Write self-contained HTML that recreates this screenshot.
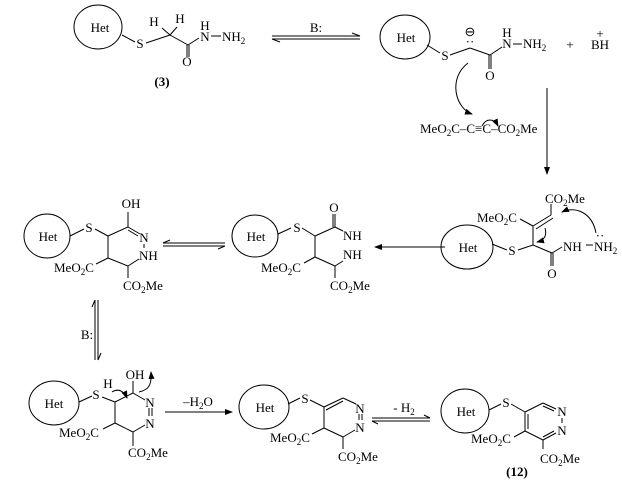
<!DOCTYPE html>
<html><head><meta charset="utf-8"><style>
html,body{margin:0;padding:0;background:#fff;}
svg{display:block;}
text{font-family:"Liberation Serif",serif;font-size:13px;fill:#000;}
.sub{font-size:9px;}
</style></head><body>
<svg width="622" height="482" viewBox="0 0 622 482" xmlns="http://www.w3.org/2000/svg">
<defs>
<marker id="ah" markerWidth="8" markerHeight="6" refX="7" refY="3" orient="auto" markerUnits="userSpaceOnUse"><path d="M0,0 L8,3 L0,6 z" fill="#000"/></marker>
</defs>
<g stroke="#000" stroke-width="1" fill="none">
<!-- Structure 3 -->
<ellipse cx="98" cy="27" rx="24" ry="22"/>
<line x1="122" y1="35" x2="135" y2="42"/>
<line x1="146" y1="43" x2="170" y2="35"/>
<line x1="170" y1="35" x2="162" y2="28"/>
<line x1="170" y1="35" x2="177" y2="27"/>
<line x1="170" y1="35" x2="188" y2="45"/>
<line x1="187" y1="45" x2="187" y2="57"/><line x1="189" y1="45" x2="189" y2="57"/>
<line x1="188" y1="45" x2="199" y2="38"/>
<line x1="211" y1="36" x2="221" y2="36"/>
<!-- eq arrow 1 -->
<line x1="272" y1="36" x2="360" y2="36"/><line x1="272" y1="39" x2="360" y2="39"/>
<line x1="272" y1="39" x2="280" y2="42"/><line x1="360" y1="36" x2="352" y2="33"/>
<!-- Structure 2 -->
<ellipse cx="405" cy="37" rx="25" ry="22"/>
<line x1="427" y1="45" x2="440" y2="53"/>
<line x1="450" y1="55" x2="470" y2="48"/>
<line x1="470" y1="48" x2="490" y2="55"/>
<line x1="489" y1="55" x2="489" y2="69"/><line x1="491" y1="55" x2="491" y2="69"/>
<line x1="490" y1="55" x2="502" y2="47"/>
<line x1="513" y1="44" x2="522" y2="44"/>
<path d="M468,63 C448,78 455,108 472,114" marker-end="url(#ah)"/>
<path d="M482,126 C486,118 494,118 498,126" marker-end="url(#ah)"/>
<line x1="547" y1="88" x2="547" y2="174" marker-end="url(#ah)"/>
<!-- Structure right-mid -->
<ellipse cx="467" cy="247" rx="26" ry="22"/>
<line x1="492" y1="244" x2="507" y2="250"/>
<line x1="518" y1="250" x2="533" y2="245"/>
<line x1="533" y1="245" x2="533" y2="226"/>
<line x1="533" y1="226" x2="520" y2="219"/>
<line x1="533" y1="226" x2="551" y2="215"/><line x1="536" y1="229" x2="553" y2="218"/>
<line x1="551" y1="215" x2="551" y2="204"/>
<line x1="533" y1="245" x2="552" y2="253"/>
<line x1="551" y1="253" x2="551" y2="266"/><line x1="553" y1="253" x2="553" y2="266"/>
<line x1="552" y1="253" x2="562" y2="247"/>
<line x1="586" y1="245" x2="593" y2="245"/>
<path d="M596,233 C592,212 575,206 562,212" marker-end="url(#ah)"/>
<path d="M545,228 C547,235 545,240 537,242" marker-end="url(#ah)"/>
<line x1="445" y1="247" x2="375" y2="247" marker-end="url(#ah)"/>
<!-- Structure mid -->
<ellipse cx="255" cy="236" rx="23" ry="21"/>
<line x1="278" y1="234" x2="291" y2="228"/>
<line x1="302" y1="228" x2="315" y2="236"/>
<line x1="315" y1="236" x2="335" y2="227"/>
<line x1="335" y1="227" x2="335" y2="214"/><line x1="333" y1="227" x2="333" y2="214"/>
<line x1="335" y1="227" x2="343" y2="231"/>
<line x1="315" y1="236" x2="315" y2="257"/>
<line x1="315" y1="257" x2="335" y2="266"/>
<line x1="315" y1="257" x2="304" y2="263"/>
<line x1="335" y1="266" x2="343" y2="261"/>
<line x1="335" y1="266" x2="335" y2="278"/>
<!-- eq arrow mid -->
<line x1="163" y1="243" x2="225" y2="243"/><line x1="163" y1="246" x2="225" y2="246"/>
<line x1="163" y1="243" x2="170" y2="240"/><line x1="225" y1="246" x2="218" y2="249"/>
<!-- Structure left mid -->
<ellipse cx="47" cy="236" rx="23" ry="22"/>
<line x1="70" y1="236" x2="84" y2="229"/>
<line x1="95" y1="229" x2="108" y2="236"/>
<line x1="108" y1="236" x2="128" y2="227"/>
<line x1="128" y1="227" x2="128" y2="212"/>
<line x1="128" y1="227" x2="140" y2="234"/><line x1="128" y1="230" x2="138" y2="236"/>
<line x1="108" y1="236" x2="108" y2="258"/>
<line x1="108" y1="258" x2="128" y2="266"/>
<line x1="108" y1="258" x2="96" y2="264"/>
<line x1="128" y1="266" x2="139" y2="259"/>
<line x1="128" y1="266" x2="128" y2="278"/>
<line x1="144" y1="244" x2="144" y2="248"/>
<!-- B: vertical eq -->
<line x1="95" y1="300" x2="95" y2="360"/><line x1="98" y1="300" x2="98" y2="360"/>
<line x1="95" y1="300" x2="92" y2="307"/><line x1="98" y1="360" x2="101" y2="353"/>
<!-- Structure bottom-left -->
<ellipse cx="54" cy="403" rx="25" ry="22"/>
<line x1="79" y1="402" x2="92" y2="396"/>
<line x1="102" y1="397" x2="115" y2="402"/>
<line x1="115" y1="402" x2="133" y2="393"/>
<line x1="133" y1="393" x2="133" y2="381"/>
<line x1="133" y1="393" x2="145" y2="400"/>
<line x1="115" y1="402" x2="115" y2="423"/>
<line x1="115" y1="423" x2="133" y2="432"/>
<line x1="115" y1="423" x2="103" y2="429"/>
<line x1="133" y1="432" x2="145" y2="425"/>
<line x1="133" y1="432" x2="133" y2="446"/>
<line x1="149" y1="408" x2="149" y2="416"/><line x1="152" y1="408" x2="152" y2="416"/>
<path d="M112,392 C118,388 124,391 127,398" marker-end="url(#ah)"/>
<path d="M139,392 C148,390 152,386 151,372" marker-end="url(#ah)"/>
<line x1="165" y1="412" x2="232" y2="412" marker-end="url(#ah)"/>
<!-- Structure bottom-mid -->
<ellipse cx="264" cy="407" rx="25" ry="22"/>
<line x1="288" y1="404" x2="300" y2="398"/>
<line x1="310" y1="400" x2="324" y2="407"/>
<line x1="324" y1="407" x2="343" y2="398"/><line x1="326" y1="410" x2="343" y2="401"/>
<line x1="343" y1="398" x2="356" y2="404"/>
<line x1="324" y1="407" x2="324" y2="428"/>
<line x1="324" y1="428" x2="343" y2="437"/>
<line x1="324" y1="428" x2="312" y2="434"/>
<line x1="343" y1="437" x2="355" y2="430"/>
<line x1="343" y1="437" x2="343" y2="449"/>
<line x1="359" y1="414" x2="359" y2="420"/><line x1="362" y1="414" x2="362" y2="420"/>
<!-- eq arrow bottom -->
<line x1="372" y1="418" x2="430" y2="418"/><line x1="372" y1="421" x2="430" y2="421"/>
<line x1="372" y1="421" x2="378" y2="424"/><line x1="430" y1="418" x2="424" y2="415"/>
<!-- Structure 12 -->
<ellipse cx="465" cy="411" rx="24" ry="22"/>
<line x1="489" y1="410" x2="501" y2="404"/>
<line x1="511" y1="404" x2="525" y2="412"/>
<line x1="525" y1="412" x2="543" y2="403"/>
<line x1="543" y1="403" x2="556" y2="409"/><line x1="543" y1="406" x2="554" y2="411"/>
<line x1="525" y1="412" x2="525" y2="431"/><line x1="528" y1="414" x2="528" y2="429"/>
<line x1="525" y1="431" x2="543" y2="440"/>
<line x1="525" y1="431" x2="514" y2="437"/>
<line x1="543" y1="440" x2="556" y2="433"/><line x1="543" y1="437" x2="554" y2="431"/>
<line x1="543" y1="440" x2="543" y2="449"/>
<line x1="562" y1="418" x2="562" y2="423"/>
</g>
<!-- Texts -->
<text x="100" y="32" text-anchor="middle">Het</text>
<text x="140" y="48" text-anchor="middle">S</text>
<text x="154" y="26" text-anchor="middle">H</text>
<text x="180" y="23" text-anchor="middle">H</text>
<text x="187" y="66" text-anchor="middle">O</text>
<text x="205" y="30" text-anchor="middle">H</text>
<text x="205" y="41" text-anchor="middle">N</text>
<text x="222" y="41">NH<tspan class="sub" dy="3">2</tspan></text>
<text x="162" y="86" text-anchor="middle" font-weight="bold">(3)</text>
<text x="316" y="32" text-anchor="middle">B:</text>

<text x="406" y="42" text-anchor="middle">Het</text>
<text x="445" y="60" text-anchor="middle">S</text>
<text x="470" y="36" text-anchor="middle" font-size="12">⊖</text>
<text x="470" y="46" text-anchor="middle" font-size="9">··</text>
<text x="490" y="80" text-anchor="middle">O</text>
<text x="507" y="37" text-anchor="middle">H</text>
<text x="507" y="48" text-anchor="middle">N</text>
<text x="523" y="48">NH<tspan class="sub" dy="3">2</tspan></text>
<text x="570" y="49" text-anchor="middle">+</text>
<text x="600" y="38" text-anchor="middle" font-size="10">+</text>
<text x="600" y="49" text-anchor="middle">BH</text>
<text x="420" y="133" font-size="12">MeO<tspan class="sub" dy="3">2</tspan><tspan dy="-3">C–C≡C–CO</tspan><tspan class="sub" dy="3">2</tspan><tspan dy="-3">Me</tspan></text>

<text x="545" y="203" font-size="12">CO<tspan class="sub" dy="3">2</tspan><tspan dy="-3">Me</tspan></text>
<text x="477" y="222" font-size="12">MeO<tspan class="sub" dy="3">2</tspan><tspan dy="-3">C</tspan></text>
<text x="468" y="252" text-anchor="middle">Het</text>
<text x="512" y="255" text-anchor="middle">S</text>
<text x="552" y="278" text-anchor="middle">O</text>
<text x="563" y="251">NH</text>
<text x="600" y="240" text-anchor="middle" font-size="9">··</text>
<text x="594" y="251">NH<tspan class="sub" dy="3">2</tspan></text>

<text x="256" y="241" text-anchor="middle">Het</text>
<text x="297" y="232" text-anchor="middle">S</text>
<text x="334" y="212" text-anchor="middle">O</text>
<text x="343" y="240">NH</text>
<text x="343" y="259">NH</text>
<text x="261" y="272" font-size="12">MeO<tspan class="sub" dy="3">2</tspan><tspan dy="-3">C</tspan></text>
<text x="330" y="290" font-size="12">CO<tspan class="sub" dy="3">2</tspan><tspan dy="-3">Me</tspan></text>

<text x="48" y="241" text-anchor="middle">Het</text>
<text x="89" y="232" text-anchor="middle">S</text>
<text x="131" y="208" text-anchor="middle">OH</text>
<text x="144" y="242" text-anchor="middle">N</text>
<text x="139" y="260">NH</text>
<text x="54" y="272" font-size="12">MeO<tspan class="sub" dy="3">2</tspan><tspan dy="-3">C</tspan></text>
<text x="123" y="290" font-size="12">CO<tspan class="sub" dy="3">2</tspan><tspan dy="-3">Me</tspan></text>

<text x="87" y="339" text-anchor="middle">B:</text>

<text x="54" y="408" text-anchor="middle">Het</text>
<text x="96" y="399" text-anchor="middle">S</text>
<text x="108" y="388" text-anchor="middle">H</text>
<text x="135" y="379" text-anchor="middle">OH</text>
<text x="150" y="407" text-anchor="middle">N</text>
<text x="150" y="428" text-anchor="middle">N</text>
<text x="59" y="437" font-size="12">MeO<tspan class="sub" dy="3">2</tspan><tspan dy="-3">C</tspan></text>
<text x="128" y="457" font-size="12">CO<tspan class="sub" dy="3">2</tspan><tspan dy="-3">Me</tspan></text>
<text x="198" y="406" text-anchor="middle">–H<tspan class="sub" dy="3">2</tspan><tspan dy="-3">O</tspan></text>

<text x="265" y="412" text-anchor="middle">Het</text>
<text x="305" y="403" text-anchor="middle">S</text>
<text x="360" y="413" text-anchor="middle">N</text>
<text x="360" y="432" text-anchor="middle">N</text>
<text x="270" y="442" font-size="12">MeO<tspan class="sub" dy="3">2</tspan><tspan dy="-3">C</tspan></text>
<text x="338" y="461" font-size="12">CO<tspan class="sub" dy="3">2</tspan><tspan dy="-3">Me</tspan></text>

<text x="404" y="412" text-anchor="middle">- H<tspan class="sub" dy="3">2</tspan></text>

<text x="466" y="416" text-anchor="middle">Het</text>
<text x="506" y="407" text-anchor="middle">S</text>
<text x="562" y="416" text-anchor="middle">N</text>
<text x="562" y="435" text-anchor="middle">N</text>
<text x="471" y="443" font-size="12">MeO<tspan class="sub" dy="3">2</tspan><tspan dy="-3">C</tspan></text>
<text x="540" y="463" font-size="12">CO<tspan class="sub" dy="3">2</tspan><tspan dy="-3">Me</tspan></text>
<text x="517" y="476" text-anchor="middle" font-weight="bold">(12)</text>
</svg>
</body></html>
